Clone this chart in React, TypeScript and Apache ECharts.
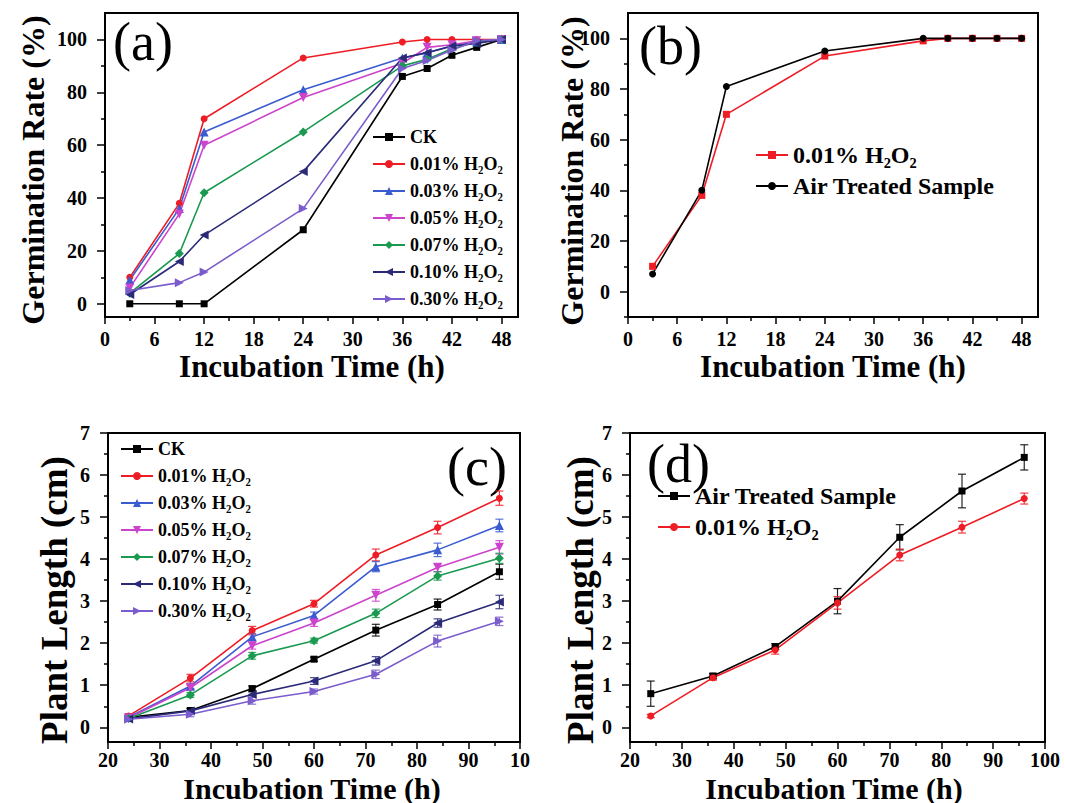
import React, { useEffect, useRef } from 'react';
import * as echarts from 'echarts';

// ---------- DATA ----------
// (a) germination rate vs incubation time
const timeA = [3, 9, 12, 24, 36, 39, 42, 45, 48];
const germCK = [0, 0, 0, 28, 86, 89, 94, 97, 100];
const germH001 = [10, 38, 70, 93, 99, 100, 100, 100, 100];
const germH003 = [9, 36, 65, 81, 93, 95, 97.5, 99, 100];
const germH005 = [6, 34, 60, 78, 91, 97, 98, 99.5, 100];
const germH007 = [4, 19, 42, 65, 90, 92.5, 96.5, 99, 100];
const germH010 = [3.5, 16, 26, 50, 93, 95, 97.5, 98.5, 100];
const germH030 = [5, 8, 12, 36, 89, 92, 96, 99.5, 100];

// (b)
const germH001b = [10, 38, 70, 93, 99, 100, 100, 100, 100];
const germAir = [7, 40, 81, 95, 100, 100, 100, 100, 100];

// (c) plant length vs incubation time
const timeC = [24, 36, 48, 60, 72, 84, 96];
const lenCK = [0.24, 0.4, 0.92, 1.62, 2.31, 2.92, 3.7];
const lenH001 = [0.27, 1.17, 2.3, 2.94, 4.1, 4.75, 5.45];
const lenH003 = [0.24, 0.98, 2.15, 2.66, 3.82, 4.22, 4.8];
const lenH005 = [0.22, 0.94, 1.94, 2.48, 3.14, 3.8, 4.28];
const lenH007 = [0.21, 0.77, 1.7, 2.06, 2.71, 3.6, 4.02];
const lenH010 = [0.2, 0.39, 0.78, 1.1, 1.58, 2.48, 2.98];
const lenH030 = [0.19, 0.31, 0.63, 0.85, 1.26, 2.05, 2.52];
const errCK = [0.05, 0.05, 0.06, 0.05, 0.14, 0.13, 0.18];
const errH001 = [0.05, 0.09, 0.1, 0.08, 0.14, 0.15, 0.17];
const errH003 = [0.04, 0.06, 0.08, 0.08, 0.12, 0.16, 0.15];
const errH005 = [0.04, 0.06, 0.08, 0.08, 0.14, 0.1, 0.16];
const errH007 = [0.04, 0.06, 0.08, 0.06, 0.1, 0.1, 0.12];
const errH010 = [0.04, 0.05, 0.06, 0.08, 0.1, 0.1, 0.16];
const errH030 = [0.04, 0.06, 0.08, 0.06, 0.1, 0.14, 0.1];

// (d)
const lenAir = [0.8, 1.22, 1.92, 3.0, 4.52, 5.62, 6.42];
const errAir = [0.3, 0.06, 0.07, 0.3, 0.3, 0.4, 0.3];
const lenH001d = [0.27, 1.18, 1.84, 2.96, 4.1, 4.76, 5.44];
const errH001d = [0.04, 0.06, 0.1, 0.15, 0.14, 0.14, 0.13];

// tick labels
const ticksTimeAB = [0, 6, 12, 18, 24, 30, 36, 42, 48];
const minorTimeAB = [3, 9, 15, 21, 27, 33, 39, 45];
const ticksGerm = [0, 20, 40, 60, 80, 100];
const minorGermA = [10, 30, 50, 70, 90];
const minorGermB = [-10, 10, 30, 50, 70, 90];
const ticksTimeCD = [20, 30, 40, 50, 60, 70, 80, 90, 100];
const minorTimeCD = [25, 35, 45, 55, 65, 75, 85, 95];
const ticksLen = [0, 1, 2, 3, 4, 5, 6, 7];
const minorLen = [0.5, 1.5, 2.5, 3.5, 4.5, 5.5, 6.5];

const NAMES = ['CK', '0.01% H₂O₂', '0.03% H₂O₂', '0.05% H₂O₂', '0.07% H₂O₂', '0.10% H₂O₂', '0.30% H₂O₂'];
const AIR = 'Air Treated Sample';

// ---------- STYLE ----------
const FONT = '"Liberation Serif", "Times New Roman", serif';
const C = {
  ck: '#000000',
  h001: '#ee1c24',
  h003: '#3b5bd0',
  h005: '#cc44cc',
  h007: '#1a9950',
  h010: '#2a2a78',
  h030: '#7a5ccc',
};

type AxCfg = { min: number; max: number; major: number[]; minor: number[]; fmt?: (v: number) => string; margin: number; tick: number };

function makeAxes(g: number, xc: AxCfg, yc: AxCfg) {
  const lbl = { fontSize: 20, fontWeight: 'bold', fontFamily: FONT, color: '#000' };
  const tickStyle = { color: '#000', width: 1.5 };
  const common = { gridIndex: g, type: 'value', splitLine: { show: false }, axisLine: { show: false, onZero: false } };
  const xs = [
    {
      ...common, position: 'bottom', min: xc.min, max: xc.max,
      axisTick: { show: true, customValues: xc.major, length: xc.tick, lineStyle: tickStyle },
      axisLabel: { show: true, customValues: xc.major, margin: xc.margin, formatter: xc.fmt || ((v: number) => String(v)), ...lbl },
    },
    {
      ...common, position: 'bottom', min: xc.min, max: xc.max,
      axisTick: { show: true, customValues: xc.minor, length: 4, lineStyle: tickStyle },
      axisLabel: { show: false },
    },
  ];
  const ys = [
    {
      ...common, position: 'left', min: yc.min, max: yc.max,
      axisTick: { show: true, customValues: yc.major, length: yc.tick, lineStyle: tickStyle },
      axisLabel: { show: true, customValues: yc.major, margin: yc.margin, formatter: yc.fmt || ((v: number) => String(v)), ...lbl },
    },
    {
      ...common, position: 'left', min: yc.min, max: yc.max,
      axisTick: { show: true, customValues: yc.minor, length: 4, lineStyle: tickStyle },
      axisLabel: { show: false },
    },
  ];
  return { xs, ys };
}

function line(g: number, name: string, xs: number[], ys: number[], color: string, symbol: string, size: number, rotate = 0) {
  return {
    type: 'line', name, xAxisIndex: 2 * g, yAxisIndex: 2 * g,
    data: xs.map((x, i) => [x, ys[i]]),
    symbol, symbolSize: size, symbolRotate: rotate, showSymbol: true,
    lineStyle: { color, width: 1.6 }, itemStyle: { color, borderWidth: 0 },
    z: 3,
  };
}

function errBars(g: number, xs: number[], ys: number[], es: number[], color: string) {
  return {
    type: 'custom', name: 'err', xAxisIndex: 2 * g, yAxisIndex: 2 * g,
    data: xs.map((x, i) => [x, ys[i], es[i]]),
    encode: { x: 0, y: 1 }, silent: true, z: 2,
    renderItem: (_p: any, api: any) => {
      const x = api.value(0), y = api.value(1), e = api.value(2);
      const hi = api.coord([x, y + e]);
      const lo = api.coord([x, y - e]);
      const w = 4;
      const st = { stroke: color, lineWidth: 1.2, opacity: 0.85 };
      return {
        type: 'group',
        children: [
          { type: 'line', shape: { x1: hi[0], y1: hi[1], x2: lo[0], y2: lo[1] }, style: st },
          { type: 'line', shape: { x1: hi[0] - w, y1: hi[1], x2: hi[0] + w, y2: hi[1] }, style: st },
          { type: 'line', shape: { x1: lo[0] - w, y1: lo[1], x2: lo[0] + w, y2: lo[1] }, style: st },
        ],
      };
    },
  };
}

const strip = (n: string) => n.split('|')[1];

export default function App() {
  const ref = useRef<HTMLDivElement>(null);
  useEffect(() => {
    if (!ref.current) return;
    const chart = echarts.init(ref.current, null, { renderer: 'svg' });

    const grids = [
      { left: 105, top: 13, width: 413, height: 304 },
      { left: 628, top: 13, width: 410, height: 304 },
      { left: 108, top: 433, width: 412, height: 309 },
      { left: 630, top: 433, width: 415, height: 309 },
    ].map((g) => ({ ...g, show: true, borderColor: '#000', borderWidth: 2, backgroundColor: 'transparent' }));

    const a = makeAxes(0,
      { min: 0, max: 50, major: ticksTimeAB, minor: minorTimeAB, margin: 12, tick: 7 },
      { min: -5, max: 110, major: ticksGerm, minor: minorGermA, margin: 18, tick: 8 });
    const b = makeAxes(1,
      { min: 0, max: 50, major: ticksTimeAB, minor: minorTimeAB, margin: 12, tick: 7 },
      { min: -10, max: 110, major: ticksGerm, minor: minorGermB, margin: 18, tick: 8 });
    const c = makeAxes(2,
      { min: 20, max: 100, major: ticksTimeCD, minor: minorTimeCD, margin: 8, tick: 7, fmt: (v: number) => (v === 100 ? '10' : String(v)) },
      { min: -0.35, max: 7, major: ticksLen, minor: minorLen, margin: 18, tick: 8 });
    const d = makeAxes(3,
      { min: 20, max: 100, major: ticksTimeCD, minor: minorTimeCD, margin: 8, tick: 7 },
      { min: -0.35, max: 7, major: ticksLen, minor: minorLen, margin: 18, tick: 8 });

    const series: any[] = [
      // (a)
      line(0, 'a|' + NAMES[0], timeA, germCK, C.ck, 'rect', 7),
      line(0, 'a|' + NAMES[1], timeA, germH001, C.h001, 'circle', 7),
      line(0, 'a|' + NAMES[2], timeA, germH003, C.h003, 'triangle', 9),
      line(0, 'a|' + NAMES[3], timeA, germH005, C.h005, 'triangle', 9, 180),
      line(0, 'a|' + NAMES[4], timeA, germH007, C.h007, 'diamond', 9),
      line(0, 'a|' + NAMES[5], timeA, germH010, C.h010, 'triangle', 9, 90),
      line(0, 'a|' + NAMES[6], timeA, germH030, C.h030, 'triangle', 9, -90),
      // (b)
      line(1, 'b|' + NAMES[1], timeA, germH001b, C.h001, 'rect', 7),
      line(1, 'b|' + AIR, timeA, germAir, C.ck, 'circle', 7),
      // (c)
      errBars(2, timeC, lenCK, errCK, C.ck),
      errBars(2, timeC, lenH001, errH001, C.h001),
      errBars(2, timeC, lenH003, errH003, C.h003),
      errBars(2, timeC, lenH005, errH005, C.h005),
      errBars(2, timeC, lenH007, errH007, C.h007),
      errBars(2, timeC, lenH010, errH010, C.h010),
      errBars(2, timeC, lenH030, errH030, C.h030),
      line(2, 'c|' + NAMES[0], timeC, lenCK, C.ck, 'rect', 7),
      line(2, 'c|' + NAMES[1], timeC, lenH001, C.h001, 'circle', 7),
      line(2, 'c|' + NAMES[2], timeC, lenH003, C.h003, 'triangle', 9),
      line(2, 'c|' + NAMES[3], timeC, lenH005, C.h005, 'triangle', 9, 180),
      line(2, 'c|' + NAMES[4], timeC, lenH007, C.h007, 'diamond', 9),
      line(2, 'c|' + NAMES[5], timeC, lenH010, C.h010, 'triangle', 9, 90),
      line(2, 'c|' + NAMES[6], timeC, lenH030, C.h030, 'triangle', 9, -90),
      // (d)
      errBars(3, timeC, lenAir, errAir, C.ck),
      errBars(3, timeC, lenH001d, errH001d, C.h001),
      line(3, 'd|' + AIR, timeC, lenAir, C.ck, 'rect', 7),
      line(3, 'd|' + NAMES[1], timeC, lenH001d, C.h001, 'circle', 7),
    ];

    const legBase = {
      orient: 'vertical', padding: 0, itemWidth: 32, itemHeight: 10, selectedMode: false,
      formatter: strip,
    };
    const legSmall = { ...legBase, itemGap: 7, textStyle: { fontSize: 18, fontWeight: 'bold', fontFamily: FONT, color: '#000', lineHeight: 20 } };
    const legBig = { ...legBase, itemGap: 5, textStyle: { fontSize: 24, fontWeight: 'bold', fontFamily: FONT, color: '#000', lineHeight: 26 } };

    const titleStyle = (size: number) => ({ fontSize: size, fontWeight: 'bold', fontFamily: FONT, fill: '#000', textAlign: 'center', textVerticalAlign: 'middle' });
    const tag = (text: string, x: number, y: number) => ({
      type: 'text', x, y, style: { text, fontSize: 54, fontFamily: FONT, fill: '#000', textAlign: 'left', textVerticalAlign: 'middle' },
    });

    chart.setOption({
      animation: false,
      backgroundColor: '#fff',
      grid: grids,
      xAxis: [...a.xs, ...b.xs, ...c.xs, ...d.xs],
      yAxis: [...a.ys, ...b.ys, ...c.ys, ...d.ys],
      legend: [
        { ...legSmall, left: 372, top: 127, data: NAMES.map((n) => 'a|' + n) },
        { ...legBig, left: 755, top: 142, data: ['b|' + NAMES[1], 'b|' + AIR] },
        { ...legSmall, left: 120, top: 439, data: NAMES.map((n) => 'c|' + n) },
        { ...legBig, left: 657, top: 483, data: ['d|' + AIR, 'd|' + NAMES[1]] },
      ],
      graphic: [
        { type: 'text', x: 33, y: 170, rotation: Math.PI / 2, style: { text: 'Germination Rate (%)', ...titleStyle(32) } },
        { type: 'text', x: 572, y: 171, rotation: Math.PI / 2, style: { text: 'Germination Rate (%)', ...titleStyle(32) } },
        { type: 'text', x: 54, y: 600, rotation: Math.PI / 2, style: { text: 'Plant Length (cm)', ...titleStyle(37) } },
        { type: 'text', x: 580, y: 600, rotation: Math.PI / 2, style: { text: 'Plant Length (cm)', ...titleStyle(37) } },
        { type: 'text', x: 312, y: 366, style: { text: 'Incubation Time (h)', ...titleStyle(31) } },
        { type: 'text', x: 833, y: 366, style: { text: 'Incubation Time (h)', ...titleStyle(31) } },
        { type: 'text', x: 312, y: 788, style: { text: 'Incubation Time (h)', ...titleStyle(30) } },
        { type: 'text', x: 834, y: 788, style: { text: 'Incubation Time (h)', ...titleStyle(30) } },
        tag('(a)', 113, 42),
        tag('(b)', 639, 46),
        tag('(c)', 447, 467),
        tag('(d)', 647, 464),
      ],
      series,
    });
    return () => chart.dispose();
  }, []);
  return <div ref={ref} style={{ position: 'fixed', left: 0, top: 0, width: 1065, height: 803, background: '#fff' }} />;
}
